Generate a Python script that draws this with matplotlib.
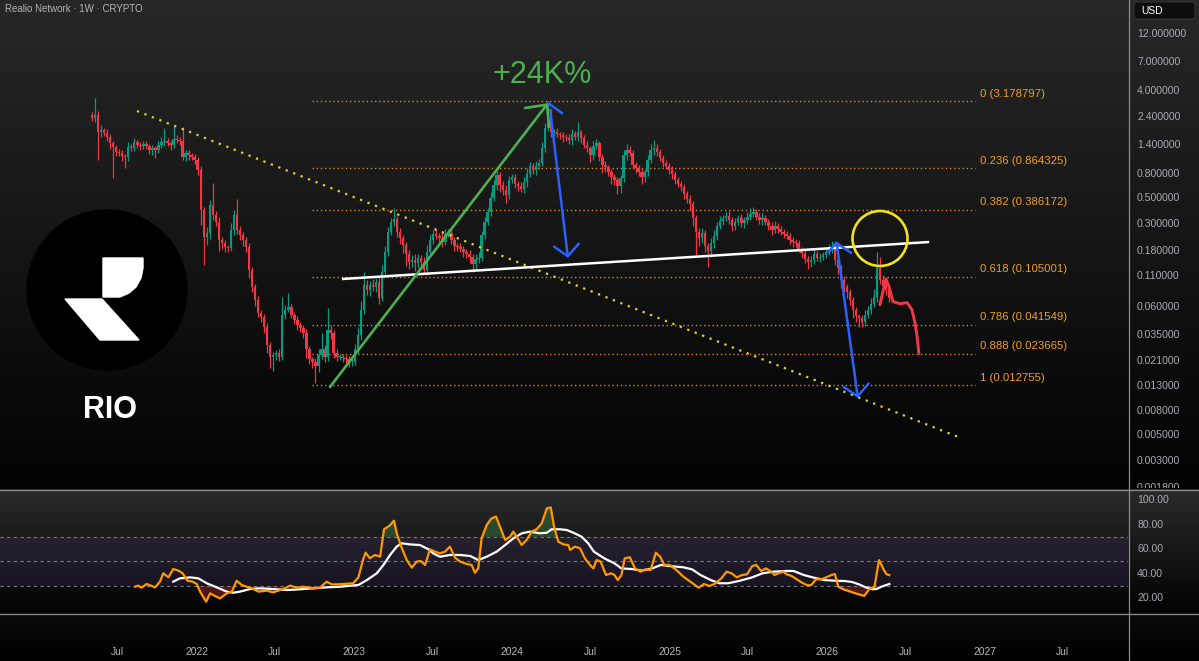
import datetime as dt
import numpy as np
import matplotlib
matplotlib.use("Agg")
import matplotlib.pyplot as plt
from matplotlib.patches import Circle, Polygon, FancyBboxPatch
from matplotlib.transforms import Bbox

plt.rcParams['font.family'] = ['Liberation Sans', 'DejaVu Sans']

# ---------------- data ----------------
# RIO / USD weekly candles, first candle in the week of 2021-05-03
first_week = dt.date(2021, 5, 3)
first_open = 2.44
close = [
    2.30, 2.44, 1.75, 1.82, 1.72, 1.59, 1.41, 1.31, 1.19, 1.165,
    1.10, 1.08, 1.31, 1.28, 1.44, 1.36, 1.33, 1.39, 1.33, 1.235,
    1.28, 1.235, 1.36, 1.44, 1.47, 1.41, 1.36, 1.53, 1.50, 1.47,
    1.08, 1.165, 1.12, 1.08, 1.017, 0.837, 0.386, 0.229, 0.247, 0.425,
    0.350, 0.306, 0.216, 0.204, 0.188, 0.185, 0.262, 0.350, 0.262, 0.238,
    0.216, 0.188, 0.121, 0.087, 0.0674, 0.0523, 0.0485, 0.0399, 0.0282, 0.0223,
    0.0232, 0.0241, 0.0223, 0.0504, 0.0555, 0.0588, 0.0504, 0.0457, 0.0415, 0.0391,
    0.0355, 0.0256, 0.0211, 0.0199, 0.0184, 0.0232, 0.0256, 0.0223, 0.0377, 0.0355,
    0.0241, 0.0223, 0.0223, 0.0219, 0.0211, 0.0199, 0.0199, 0.0256, 0.0342, 0.0555,
    0.090, 0.082, 0.090, 0.087, 0.095, 0.070, 0.116, 0.171, 0.252, 0.306,
    0.324, 0.252, 0.224, 0.196, 0.164, 0.140, 0.146, 0.138, 0.152, 0.140,
    0.121, 0.171, 0.216, 0.242, 0.233, 0.224, 0.208, 0.242, 0.247, 0.216,
    0.192, 0.188, 0.181, 0.171, 0.164, 0.155, 0.135, 0.149, 0.152, 0.238,
    0.306, 0.371, 0.486, 0.626, 0.760, 0.626, 0.568, 0.516, 0.690, 0.731,
    0.638, 0.614, 0.579, 0.663, 0.774, 0.905, 0.837, 0.905, 0.96, 1.28,
    1.90, 2.63, 1.75, 1.75, 1.68, 1.65, 1.59, 1.56, 1.50, 1.68,
    1.59, 1.75, 1.56, 1.36, 1.28, 1.12, 1.33, 1.41, 1.08, 0.923,
    0.887, 0.805, 0.731, 0.690, 0.614, 0.717, 1.12, 1.235, 1.165, 0.923,
    0.87, 0.805, 0.731, 0.805, 1.017, 1.235, 1.28, 1.19, 1.06, 0.96,
    0.905, 0.837, 0.774, 0.690, 0.638, 0.602, 0.526, 0.477, 0.433, 0.330,
    0.252, 0.224, 0.247, 0.192, 0.175, 0.204, 0.233, 0.283, 0.312, 0.330,
    0.343, 0.318, 0.283, 0.306, 0.330, 0.300, 0.318, 0.337, 0.357, 0.371,
    0.337, 0.318, 0.330, 0.306, 0.283, 0.262, 0.283, 0.267, 0.252, 0.242,
    0.233, 0.216, 0.208, 0.204, 0.181, 0.168, 0.149, 0.140, 0.146, 0.164,
    0.152, 0.155, 0.161, 0.171, 0.181, 0.188, 0.146, 0.125, 0.099, 0.087,
    0.079, 0.0674, 0.0555, 0.0494, 0.0475, 0.0440, 0.0504, 0.0555, 0.0623, 0.0715,
    0.125, 0.099, 0.088, 0.082, 0.070,
]
# wick length beyond the body, percent
wick_hi = [
    6, 40, 8, 10, 5, 8, 6, 5, 4, 6,
    5, 4, 10, 6, 8, 5, 7, 6, 5, 4,
    6, 5, 8, 10, 29, 6, 5, 31, 8, 6,
    31, 6, 5, 4, 6, 5, 8, 5, 12, 10,
    53, 8, 10, 6, 5, 4, 15, 10, 36, 8,
    6, 5, 8, 6, 5, 8, 6, 5, 8, 6,
    5, 6, 8, 42, 10, 31, 6, 5, 8, 6,
    5, 8, 6, 5, 8, 12, 39, 10, 53, 10,
    6, 8, 5, 6, 5, 6, 8, 12, 15, 18,
    29, 10, 8, 12, 8, 10, 15, 12, 10, 8,
    24, 6, 8, 5, 6, 8, 10, 12, 8, 6,
    10, 15, 12, 8, 10, 6, 12, 10, 8, 6,
    5, 6, 8, 5, 6, 8, 6, 10, 12, 8,
    10, 8, 12, 10, 8, 6, 8, 10, 8, 6,
    5, 6, 8, 10, 12, 8, 6, 10, 8, 12,
    10, 21, 4, 6, 8, 5, 6, 5, 8, 10,
    6, 21, 5, 6, 8, 5, 10, 8, 5, 6,
    8, 5, 6, 5, 6, 5, 10, 12, 8, 6,
    5, 6, 8, 6, 10, 12, 17, 8, 6, 5,
    6, 5, 8, 6, 5, 6, 5, 6, 8, 5,
    6, 8, 10, 6, 5, 10, 12, 8, 10, 6,
    8, 10, 6, 8, 5, 8, 6, 10, 12, 10,
    6, 8, 10, 6, 5, 8, 10, 6, 5, 6,
    5, 6, 5, 6, 5, 4, 6, 5, 8, 10,
    6, 8, 6, 8, 10, 12, 5, 6, 5, 8,
    6, 5, 6, 5, 4, 6, 10, 8, 12, 15,
    36, 24, 10, 8, 6,
]
wick_lo = [
    5, 8, 42, 10, 6, 8, 10, 45, 8, 6,
    10, 20, 8, 6, 5, 6, 8, 5, 6, 8,
    10, 15, 6, 5, 8, 6, 10, 5, 6, 8,
    6, 8, 10, 6, 8, 10, 25, 42, 15, 12,
    10, 8, 20, 12, 10, 8, 6, 10, 8, 10,
    12, 10, 15, 10, 12, 8, 10, 12, 15, 20,
    25, 10, 8, 6, 8, 5, 6, 8, 10, 8,
    10, 15, 8, 10, 27, 10, 8, 10, 8, 12,
    10, 8, 6, 8, 10, 8, 6, 5, 6, 10,
    8, 10, 12, 8, 10, 12, 6, 10, 8, 6,
    8, 10, 12, 15, 21, 12, 10, 15, 10, 12,
    8, 10, 6, 8, 6, 8, 10, 6, 5, 8,
    10, 8, 6, 10, 8, 12, 15, 10, 8, 6,
    8, 6, 8, 6, 10, 12, 10, 15, 8, 6,
    8, 10, 6, 8, 10, 6, 8, 10, 6, 5,
    8, 6, 10, 8, 6, 8, 10, 6, 8, 10,
    6, 8, 10, 6, 8, 12, 10, 6, 8, 15,
    10, 8, 12, 10, 15, 12, 8, 10, 6, 8,
    10, 8, 12, 10, 8, 6, 10, 8, 6, 8,
    6, 8, 10, 8, 6, 8, 10, 8, 12, 15,
    38, 15, 10, 12, 27, 12, 10, 8, 6, 8,
    6, 8, 10, 8, 6, 8, 10, 8, 6, 5,
    6, 8, 10, 6, 8, 10, 6, 8, 6, 8,
    6, 8, 10, 8, 6, 10, 8, 12, 10, 8,
    6, 8, 6, 5, 6, 8, 10, 12, 15, 10,
    12, 10, 15, 12, 16, 10, 8, 6, 8, 6,
    10, 8, 6, 10, 8,
]

# RSI (week index, value) and its moving average
rsi_pts = [
    (14.2, 29.5), (15.3, 30.4), (16.4, 28.7), (18.1, 31.7), (19.8, 30.1), (20.9, 29.0),
    (22.5, 33.6), (23.6, 40.4), (25.3, 37.1), (26.9, 43.9), (28.6, 42.6), (30.0, 40.4),
    (31.6, 34.4), (33.3, 33.6), (34.7, 31.7), (35.8, 25.5), (37.8, 17.3), (39.1, 24.1),
    (40.7, 22.0), (42.4, 20.0), (44.6, 24.1), (46.3, 25.5), (47.9, 34.4), (49.6, 30.9),
    (51.2, 29.5), (52.9, 28.2), (55.1, 25.5), (57.8, 26.3), (60.0, 24.9), (62.3, 26.8),
    (63.9, 28.2), (65.6, 30.4), (67.8, 28.7), (70.0, 29.5), (73.3, 28.2), (75.5, 28.7),
    (77.7, 33.6), (79.4, 31.4), (81.0, 31.4), (83.2, 31.7), (86.5, 32.3), (88.2, 37.1),
    (89.8, 51.8), (90.6, 57.2), (92.0, 52.6), (93.7, 55.3), (95.4, 53.9), (96.7, 76.2),
    (98.5, 79.1), (100.0, 83.2), (100.9, 72.9), (102.5, 61.5), (104.2, 51.2), (105.9, 45.0),
    (107.5, 49.9), (108.8, 50.4), (110.3, 47.2), (111.9, 59.9), (113.6, 58.0), (115.2, 56.6),
    (116.9, 58.0), (118.5, 62.1), (120.2, 53.1), (121.9, 49.9), (124.1, 48.0), (125.7, 47.2),
    (126.8, 40.9), (127.9, 44.4), (129.0, 68.8), (130.7, 79.7), (132.3, 85.1), (133.8, 86.5),
    (135.1, 78.3), (136.8, 67.5), (138.4, 70.2), (139.5, 74.3), (140.6, 70.2), (142.3, 63.4),
    (143.9, 67.5), (145.6, 74.3), (147.2, 76.2), (148.9, 81.0), (150.6, 93.2), (151.9, 94.0),
    (153.0, 78.3), (154.4, 66.1), (156.1, 63.9), (157.7, 63.4), (158.3, 59.4), (159.9, 62.1),
    (161.6, 60.7), (163.2, 52.6), (164.9, 47.2), (166.0, 44.4), (167.1, 51.2), (168.4, 49.9),
    (170.2, 39.0), (171.9, 40.4), (173.0, 39.0), (174.1, 34.9), (175.3, 39.0), (176.4, 52.6),
    (178.1, 53.4), (179.8, 44.4), (181.6, 41.7), (183.3, 43.6), (185.0, 43.1), (186.7, 57.2),
    (188.1, 53.9), (189.5, 47.2), (191.2, 47.2), (193.5, 43.1), (195.8, 37.7), (198.1, 33.6),
    (200.9, 28.7), (202.6, 31.7), (204.4, 30.1), (206.1, 31.7), (208.4, 36.3), (210.1, 41.7),
    (211.8, 40.4), (213.5, 37.1), (215.2, 39.0), (216.9, 39.6), (218.6, 46.3), (220.0, 47.2),
    (221.5, 42.3), (223.2, 44.4), (224.9, 41.7), (226.0, 39.0), (227.2, 40.4), (228.9, 41.7),
    (230.0, 39.6), (231.7, 38.2), (233.4, 35.5), (235.1, 32.8), (236.9, 30.6), (238.2, 30.9),
    (239.7, 35.5), (241.4, 35.5), (243.1, 37.1), (244.8, 39.0), (246.0, 39.8), (247.1, 29.5),
    (248.8, 27.4), (250.5, 26.0), (252.8, 24.1), (255.7, 22.0), (257.4, 27.6), (259.1, 29.5),
    (260.6, 51.2), (262.2, 43.1), (263.1, 39.6), (264.0, 39.0),
]
rsi_ma_pts = [
    (26.9, 33.6), (29.1, 36.3), (32.5, 37.1), (35.2, 36.3), (38.0, 32.3), (41.3, 29.0),
    (44.6, 25.5), (46.8, 24.6), (49.0, 25.5), (52.3, 27.6), (55.6, 28.2), (60.0, 27.6),
    (64.5, 26.8), (68.9, 27.4), (73.3, 28.2), (77.7, 29.0), (82.1, 29.5), (88.2, 30.9),
    (91.0, 34.9), (94.3, 40.4), (96.5, 47.2), (98.7, 55.3), (100.9, 62.1), (102.5, 64.8),
    (105.3, 63.9), (108.6, 63.4), (111.4, 59.9), (113.0, 56.6), (115.2, 53.9), (118.5, 55.3),
    (121.9, 55.3), (125.2, 54.5), (127.9, 51.2), (130.7, 53.9), (134.0, 58.0), (136.8, 63.4),
    (139.5, 68.8), (142.3, 72.9), (145.0, 74.3), (148.3, 72.9), (150.6, 73.4), (152.2, 76.2),
    (155.0, 76.2), (157.2, 75.6), (159.4, 73.4), (162.1, 70.2), (164.3, 64.8), (166.2, 58.0),
    (169.6, 52.6), (173.0, 48.5), (175.3, 44.4), (178.7, 43.9), (182.1, 42.6), (185.5, 44.4),
    (188.4, 47.2), (191.2, 46.3), (195.8, 45.3), (198.7, 43.6), (201.5, 39.0), (204.9, 34.9),
    (207.8, 32.3), (210.6, 32.3), (214.1, 34.1), (218.6, 37.1), (222.0, 40.4), (225.5, 41.7),
    (230.0, 42.3), (232.3, 42.3), (235.7, 39.0), (239.1, 36.8), (242.6, 34.9), (246.0, 34.4),
    (249.4, 34.1), (251.7, 33.3), (254.0, 31.4), (256.2, 29.0), (258.5, 27.4), (259.7, 27.6),
    (261.4, 29.5), (264.0, 31.7),
]

fib_ratios = [0, 0.236, 0.382, 0.618, 0.786, 0.888, 1]
fib_prices = [3.178797, 0.864325, 0.386172, 0.105001, 0.041549, 0.023665, 0.012755]

price_ticks = [12, 7, 4, 2.4, 1.4, 0.8, 0.5, 0.3, 0.18, 0.11, 0.06, 0.035,
               0.021, 0.013, 0.008, 0.005, 0.003, 0.0018]
rsi_ticks = [100, 80, 60, 40, 20]
time_ticks = [(dt.date(2021, 7, 1), 'Jul'), (dt.date(2022, 1, 1), '2022'),
              (dt.date(2022, 7, 1), 'Jul'), (dt.date(2023, 1, 1), '2023'),
              (dt.date(2023, 7, 1), 'Jul'), (dt.date(2024, 1, 1), '2024'),
              (dt.date(2024, 7, 1), 'Jul'), (dt.date(2025, 1, 1), '2025'),
              (dt.date(2025, 7, 1), 'Jul'), (dt.date(2026, 1, 1), '2026'),
              (dt.date(2026, 7, 1), 'Jul'), (dt.date(2027, 1, 1), '2027'),
              (dt.date(2027, 7, 1), 'Jul')]

# hand drawings on the chart, (week index, price)
green_leg = [(78.8, 0.01236), (151.0, 3.07)]
neckline = [(82.8, 0.1007), (277.2, 0.2067)]
down_trend = [(14.9, 2.636), (286.8, 0.00468)]
blue1_arm = [(151.0, 3.08), (155.6, 2.535)]
blue1 = [(151.7, 2.69), (157.6, 0.152)]
blue2_hat = [(244.0, 0.171), (246.4, 0.204), (251.3, 0.168)]
blue2 = [(246.7, 0.192), (253.6, 0.00998)]
red_path = [(260.9, 0.0611), (261.9, 0.079), (262.9, 0.1007), (263.9, 0.087),
            (265.2, 0.065), (267.5, 0.0623), (269.9, 0.0636), (271.5, 0.0555),
            (272.5, 0.0431), (273.2, 0.0331), (273.8, 0.0237)]
fib_span = (72.8, 292.4)

UP, DOWN = '#089981', '#f23645'
ORANGE = '#f0a020'
TXT = '#a9abb3'

# ---------------- figure ----------------
W, H = 1199, 661
fig = plt.figure(figsize=(W / 100, H / 100), dpi=100)


def rect(x0, y0, x1, y1):
    return [x0 / W, 1 - y1 / H, (x1 - x0) / W, (y1 - y0) / H]


# background panes (vertical gradients)
def band(n, c0, c1):
    t = np.linspace(0, 1, n)[:, None]
    return np.array(c0) * (1 - t) + np.array(c1) * t


bg_img = np.vstack([band(489, (0.155, 0.155, 0.155), (0.01, 0.01, 0.01)),
                    band(124, (0.165, 0.165, 0.165), (0.01, 0.01, 0.01)),
                    band(48, (0.04, 0.04, 0.04), (0.0, 0.0, 0.0))])
bg = fig.add_axes([0, 0, 1, 1])
bg.imshow(bg_img[:, None, :], aspect='auto', extent=[0, W, H, 0])
bg.set_xlim(0, W)
bg.set_ylim(H, 0)
bg.axis('off')

xlim = (-92 / 3.02, (1128 - 92) / 3.02)

# ---------------- price pane ----------------
ax = fig.add_axes(rect(0, 0, 1128, 489))
ax.patch.set_alpha(0)
ax.set_yscale('log')
ax.set_xlim(*xlim)
ax.set_ylim(0.001702, 22.78)
for s in ax.spines.values():
    s.set_visible(False)
ax.set_xticks([])
ax.set_yticks([])
ax.minorticks_off()

wk = np.arange(len(close))
cl = np.array(close)
op = np.r_[first_open, cl[:-1]]
top = np.maximum(op, cl)
bot = np.minimum(op, cl)
hi = top * (1 + np.array(wick_hi) / 100)
lo = bot * (1 - np.array(wick_lo) / 100)
top = np.maximum(top, bot * 1.015)
cols = np.where(cl >= op, UP, DOWN)

for r, p in zip(fib_ratios, fib_prices):
    ax.plot(fib_span, [p, p], color='#d98a1c', lw=1, ls=(0, (1, 2)), zorder=1)
    ax.annotate(f"{r:g} ({p:.6f})", xy=(fib_span[1] + 1.6, p), xytext=(0, 2),
                textcoords='offset points', color=ORANGE, fontsize=8.2,
                ha='left', va='bottom')

ax.vlines(wk, lo, hi, colors=cols, lw=0.9, zorder=3)
ax.bar(wk, top - bot, bottom=bot, width=0.8, color=cols, lw=0, zorder=3,
       antialiased=False)

tx, ty = zip(*down_trend)
ax.plot(tx, ty, color='#e2d332', lw=1.6, ls=(0, (1, 2.6)), zorder=4)
nx, ny = zip(*neckline)
ax.plot(nx, ny, color='white', lw=1.8, zorder=5, solid_capstyle='butt')

ax.annotate('', xy=green_leg[1], xytext=green_leg[0],
            arrowprops=dict(arrowstyle='->,head_length=1.15,head_width=1.1',
                            color='#4caf50', lw=1.9, shrinkA=0, shrinkB=0,
                            mutation_scale=10), zorder=6)
ax.text(green_leg[1][0] - 2, 5.3, '+24K%', color='#4caf50', fontsize=22,
        ha='center', va='center')

blue = '#2962ff'
bx, by = zip(*blue1_arm)
ax.plot(bx, by, color=blue, lw=1.8, zorder=6)
ax.annotate('', xy=blue1[1], xytext=blue1[0],
            arrowprops=dict(arrowstyle='->,head_length=0.8,head_width=0.9',
                            color=blue, lw=1.8, shrinkA=0, shrinkB=0,
                            mutation_scale=10), zorder=6)
bx, by = zip(*blue2_hat)
ax.plot(bx, by, color=blue, lw=1.8, zorder=6)
ax.annotate('', xy=blue2[1], xytext=blue2[0],
            arrowprops=dict(arrowstyle='->,head_length=0.8,head_width=0.9',
                            color=blue, lw=1.8, shrinkA=0, shrinkB=0,
                            mutation_scale=10), zorder=6)

rx, ry = zip(*red_path)
ax.plot(rx, ry, color=DOWN, lw=2.1, zorder=6, solid_capstyle='round')

for t in price_ticks:
    lab = ax.annotate(f"{t:.6f}", xy=(1, t), xycoords=('axes fraction', 'data'),
                      xytext=(6.5, -1), textcoords='offset points', color=TXT,
                      fontsize=7.6, ha='left', va='center', annotation_clip=False)
    lab.set_clip_box(Bbox([[1128, H - 488], [W, H]]))
    lab.set_clip_on(True)

# ---------------- RSI pane ----------------
ax2 = fig.add_axes(rect(0, 490, 1128, 613))
ax2.patch.set_alpha(0)
ax2.set_xlim(*xlim)
ax2.set_ylim(8.13, 108.13)
for s in ax2.spines.values():
    s.set_visible(False)
ax2.set_xticks([])
ax2.set_yticks([])
ax2.axhspan(30, 70, color='#7e57c2', alpha=0.12, lw=0)
for lvl in (70, 50, 30):
    ax2.axhline(lvl, color='#787b86', lw=0.8, ls=(0, (3, 3)))

rw, rv = map(np.array, zip(*rsi_pts))
ax2.fill_between(rw, rv, 70, where=rv > 70, interpolate=True, color='#4caf50', alpha=0.3, lw=0)
ax2.fill_between(rw, rv, 30, where=rv < 30, interpolate=True, color='#f23645', alpha=0.3, lw=0)
mw, mv = zip(*rsi_ma_pts)
ax2.plot(mw, mv, color='white', lw=1.6)
ax2.plot(rw, rv, color='#ff9800', lw=1.6)

for t in rsi_ticks:
    ax2.annotate(f"{t:.2f}", xy=(1, t), xycoords=('axes fraction', 'data'),
                 xytext=(6.5, 0), textcoords='offset points', color=TXT,
                 fontsize=7.6, ha='left', va='center', annotation_clip=False)

for d, lab in time_ticks:
    ax2.annotate(lab, xy=((d - first_week).days / 7, 0), xycoords=('data', 'axes fraction'),
                 xytext=(0, -28), textcoords='offset points', color='#b8b8b8',
                 fontsize=7.4, ha='center', va='center', annotation_clip=False)

# ---------------- overlay in pixel space ----------------
ov = fig.add_axes([0, 0, 1, 1])
ov.set_xlim(0, W)
ov.set_ylim(H, 0)
ov.axis('off')
ov.patch.set_alpha(0)

for yy in (489.5, 613.5):
    ov.plot([0, W], [yy, yy], color='#8c8c8c', lw=0.9)
ov.plot([1128.5, 1128.5], [0, H], color='#8c8c8c', lw=0.9)

ov.text(5, 9, 'Realio Network · 1W · CRYPTO', color='#b4b4b4', fontsize=7.0,
        ha='left', va='center')
ov.add_patch(FancyBboxPatch((1134, 2), 61, 17, boxstyle='round,pad=0,rounding_size=3',
                            fc='#0d0d0d', ec='#333333', lw=0.8))
ov.text(1141, 10.5, 'USD', color='white', fontsize=7.4, ha='left', va='center')

ov.add_patch(Circle((880, 238.5), 27.5, fill=False, ec='#f2e21e', lw=1.9))

# logo
ov.add_patch(Circle((107, 290), 80, color='black'))
ov.add_patch(Polygon([(103, 258), (143, 258), (143, 268), (141, 278), (136, 287),
                      (129, 293), (120, 297), (103, 297)], closed=True, color='white'))
ov.add_patch(Polygon([(65, 299), (102, 299), (139, 340), (100, 340)], closed=True,
                     color='white'))
ov.text(110, 410, 'RIO', color='white', fontsize=22, fontweight='bold',
        ha='center', va='center')

fig.savefig('out.png', dpi=100)
